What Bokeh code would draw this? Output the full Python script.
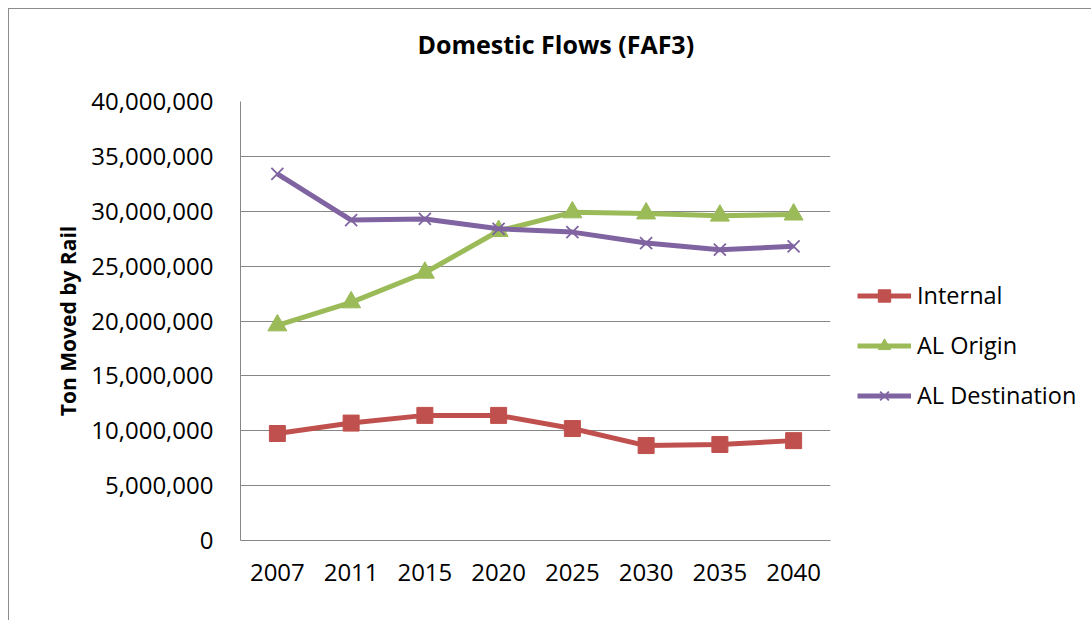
from bokeh.plotting import figure
from bokeh.models import (FactorRange, Range1d, SingleIntervalTicker, NumeralTickFormatter,
                          Legend, LegendItem, Title)
from bokeh.embed import file_html
from bokeh.resources import INLINE

years = ["2007", "2011", "2015", "2020", "2025", "2030", "2035", "2040"]
internal = [9_750_000, 10_700_000, 11_400_000, 11_400_000, 10_200_000, 8_650_000, 8_750_000, 9_100_000]
al_origin = [19_600_000, 21_700_000, 24_400_000, 28_200_000, 29_900_000, 29_800_000, 29_600_000, 29_700_000]
al_destination = [33_400_000, 29_200_000, 29_300_000, 28_400_000, 28_100_000, 27_100_000, 26_500_000, 26_800_000]

FONT = "Open Sans"
GRID = "#878787"

p = figure(x_range=FactorRange(*years), y_range=Range1d(0, 40_000_000),
           width=1082, height=611, frame_width=590, frame_height=439,
           min_border_left=231, min_border_right=261, min_border_top=92, min_border_bottom=80,
           output_backend="svg", toolbar_location=None, title=None)
p.margin = (8, 0, 0, 8)
p.styles = {"border-top": "1px solid #8c8c8c", "border-left": "1px solid #8c8c8c"}
p.outline_line_color = None
p.background_fill_color = "white"
p.border_fill_color = "white"

p.xgrid.grid_line_color = None
p.ygrid.grid_line_color = GRID
p.ygrid.grid_line_width = 1

p.yaxis.ticker = SingleIntervalTicker(interval=5_000_000)
p.yaxis.formatter = NumeralTickFormatter(format="0,0")
for ax in (p.xaxis[0], p.yaxis[0]):
    ax.axis_line_color = GRID
    ax.axis_line_width = 1
    ax.major_tick_line_color = None
    ax.minor_tick_line_color = None
    ax.major_label_text_font = FONT
    ax.major_label_text_font_size = "24px"
    ax.major_label_text_color = "black"
p.yaxis.major_label_standoff = 21
p.xaxis.major_label_standoff = 17
p.yaxis.axis_label = "Ton Moved by Rail"
p.yaxis.axis_label_text_font = FONT
p.yaxis.axis_label_text_font_size = "21px"
p.yaxis.axis_label_text_font_style = "bold"
p.yaxis.axis_label_text_color = "black"
p.yaxis.axis_label_standoff = 6

series = [
    ("Internal", internal, "#C0504D", "square", 16),
    ("AL Origin", al_origin, "#9BBB59", "triangle", 19),
    ("AL Destination", al_destination, "#8064A2", "x", 17),
]
items = []
for name, vals, color, marker, size in series:
    l = p.line(years, vals, line_color=color, line_width=5)
    if marker == "x":
        s = p.scatter(years, vals, marker="x", size=size, line_color=color, line_width=1.8)
    else:
        s = p.scatter(years, vals, marker=marker, size=size, fill_color=color, line_color=color)
    items.append(LegendItem(label=name, renderers=[l, s]))

legend = Legend(items=items, location=(27, 129), glyph_width=54, glyph_height=31,
                label_height=31, spacing=18, label_standoff=6, padding=10,
                label_text_font=FONT, label_text_font_size="23.5px", label_text_color="black",
                border_line_color=None, background_fill_alpha=0)
p.add_layout(legend, "right")

spacer = Title(text=" ", text_font=FONT, text_font_size="18px")
p.add_layout(spacer, "above")
title = Title(text="Domestic Flows (FAF3)", align="left", offset=177,
              text_font=FONT, text_font_size="25px", text_font_style="bold", text_color="black")
p.add_layout(title, "above")

open("out.html", "w").write(file_html(p, INLINE))
